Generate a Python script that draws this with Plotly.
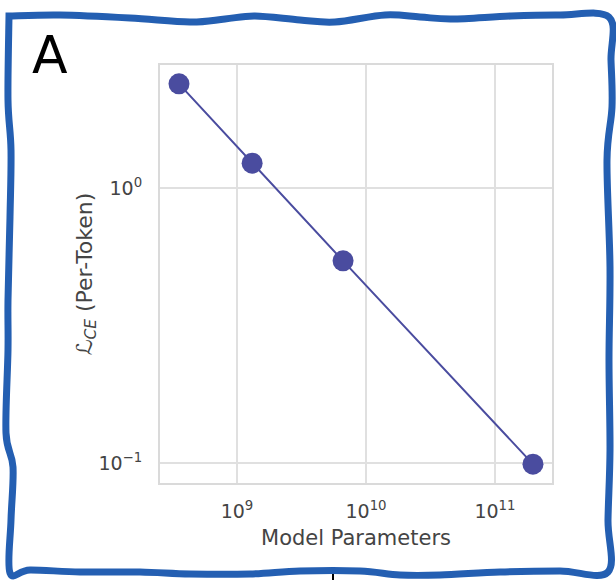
import plotly.graph_objects as go

# ---- data ----
model_params = [3.55e8, 1.31e9, 6.64e9, 1.97e11]
loss_ce = [2.39, 1.23, 0.543, 0.099]

x_tick_vals = [1e9, 1e10, 1e11]
x_tick_text = ["10<sup>9</sup>", "10<sup>10</sup>", "10<sup>11</sup>"]
y_tick_vals = [1e0, 1e-1]
y_tick_text = ["10<sup>0</sup>", "10<sup>−1</sup>"]

# ---- layout geometry (pixels) ----
W, H = 616, 580
ML, MR, MT, MB = 160, 64, 65, 97
PW, PH = W - ML - MR, H - MT - MB


def px2paper(x, y):
    return (x - ML) / PW, 1 - (y - MT) / PH


# decorative wavy frame (pixel waypoints)
frame_pts = [
    (9, 16), (60, 15), (130, 18), (190, 22), (225, 19), (255, 16), (300, 20),
    (335, 22), (385, 15), (420, 17), (452, 19), (511, 16), (560, 15), (609, 17),
    (611, 60), (612, 107), (607, 160), (610, 267), (609, 360), (610, 450),
    (608, 520), (608, 572),
    (560, 571), (500, 572), (440, 575), (400, 575), (360, 571), (300, 571),
    (250, 574), (190, 574), (140, 572), (80, 572), (30, 570), (10, 573),
    (11, 520), (13, 467), (6, 433), (8, 350), (8, 300), (10, 217), (11, 150),
    (8, 100), (9, 16),
]


def smooth_path(pts):
    pp = [px2paper(x, y) for x, y in pts]
    d = "M %.5f,%.5f" % pp[0]
    n = len(pp)
    for i in range(n - 1):
        p0 = pp[i - 1] if i > 0 else pp[i]
        p1 = pp[i]
        p2 = pp[i + 1]
        p3 = pp[i + 2] if i + 2 < n else pp[i + 1]
        c1 = (p1[0] + (p2[0] - p0[0]) / 6, p1[1] + (p2[1] - p0[1]) / 6)
        c2 = (p2[0] - (p3[0] - p1[0]) / 6, p2[1] - (p3[1] - p1[1]) / 6)
        d += " C %.5f,%.5f %.5f,%.5f %.5f,%.5f" % (c1 + c2 + p2)
    return d + " Z"


color = "#4a4c9f"
fig = go.Figure()
fig.add_trace(go.Scatter(
    x=model_params, y=loss_ce, mode="lines+markers",
    line=dict(color=color, width=2),
    marker=dict(color=color, size=21),
    showlegend=False, cliponaxis=False,
))

axis_common = dict(
    type="log", showgrid=True, gridcolor="#e0e0e0", gridwidth=1.5,
    showline=True, linecolor="#dadada", linewidth=2, mirror=True,
    ticks="", zeroline=False,
    tickfont=dict(family="DejaVu Sans", size=19, color="#444444"),
)

fig.update_xaxes(
    **axis_common, range=[8.403, 11.442],
    tickvals=x_tick_vals, ticktext=x_tick_text, ticklabelstandoff=10,
    title=dict(text="Model Parameters", standoff=10,
               font=dict(family="DejaVu Sans", size=21, color="#444444")),
)
fig.update_yaxes(
    **axis_common, range=[-1.073, 0.447],
    tickvals=y_tick_vals, ticktext=y_tick_text, ticklabelstandoff=12,
    title=dict(text="<i>ℒ</i><sub><i>CE</i></sub> (Per-Token)", standoff=0,
               font=dict(family="DejaVu Sans", size=22, color="#444444")),
)

ax, ay = px2paper(50, 55)
bx0, by0 = px2paper(333, 569)
bx1, by1 = px2paper(333, 580)
fig.update_layout(
    width=W, height=H,
    margin=dict(l=ML, r=MR, t=MT, b=MB),
    paper_bgcolor="white", plot_bgcolor="white",
    shapes=[
        dict(type="path", xref="paper", yref="paper", path=smooth_path(frame_pts),
             line=dict(color="#245fb2", width=7), layer="above"),
        dict(type="line", xref="paper", yref="paper", x0=bx0, y0=by0, x1=bx1, y1=by1,
             line=dict(color="black", width=2), layer="below"),
    ],
    annotations=[
        dict(text="A", xref="paper", yref="paper", x=ax, y=ay, showarrow=False,
             font=dict(family="DejaVu Sans", size=52, color="black"),
             xanchor="center", yanchor="middle"),
    ],
)

fig.write_html("out.html")
